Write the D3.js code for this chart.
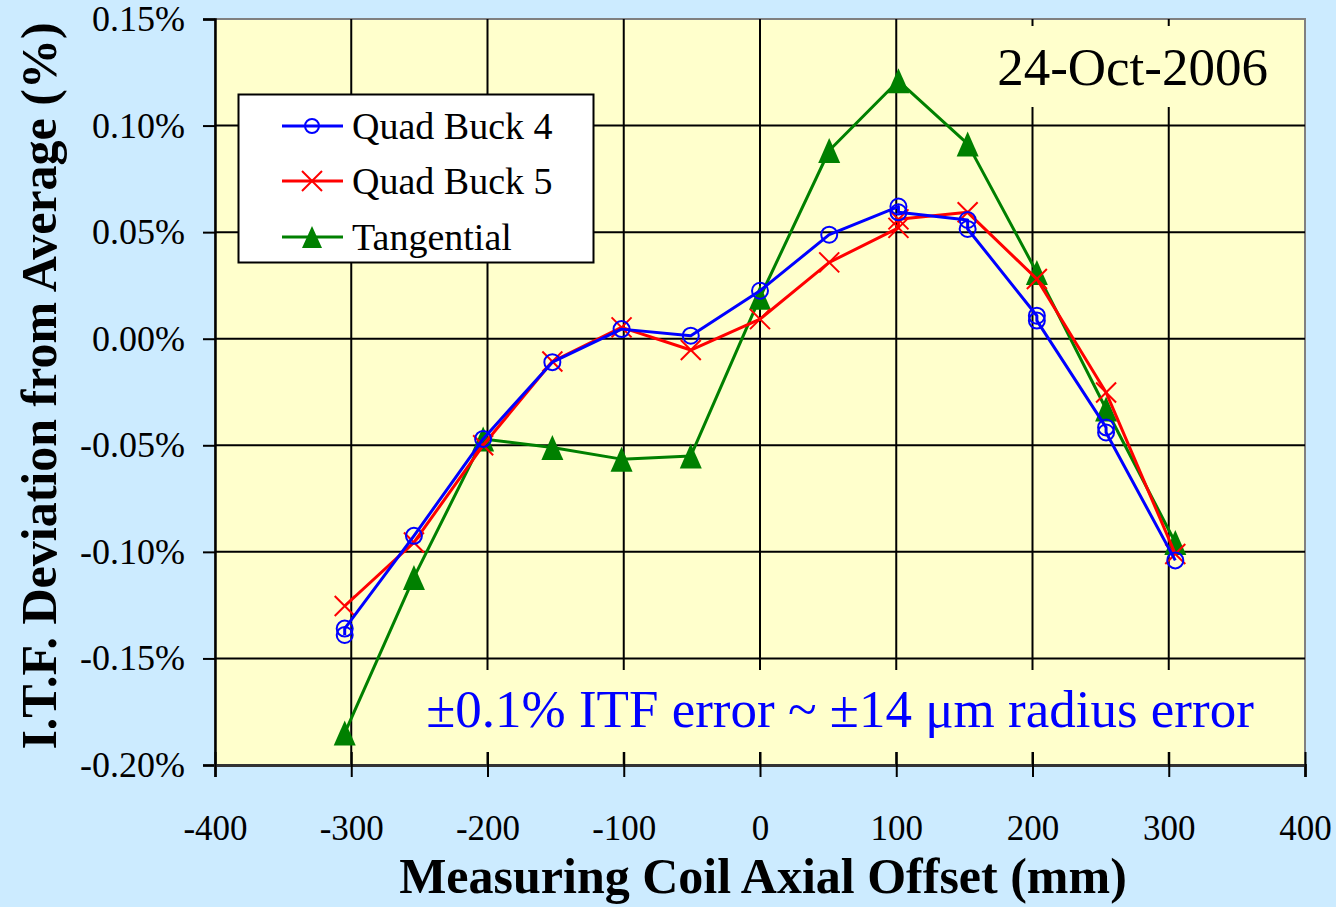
<!DOCTYPE html>
<html>
<head>
<meta charset="utf-8">
<script src="https://cdn.jsdelivr.net/npm/d3@7"></script>
<style>
  html, body { margin: 0; padding: 0; background: #CCEBFF; }
  svg { display: block; }
  text { font-family: "Liberation Serif", "Times New Roman", serif; }
</style>
</head>
<body>
<div id="chart"></div>
<script>
// positions along the coil (mm) and I.T.F. deviation (%)
const qb4X = [-304.8, -304.8, -254, -203.2, -152.4, -101.6, -50.8, 0, 50.8, 101.6, 101.6, 152.4, 152.4, 203.2, 203.2, 254, 254, 304.8];
const qb4Y = [-0.139, -0.136, -0.0925, -0.047, -0.011, 0.0045, 0.0014, 0.0225, 0.0488, 0.062, 0.0593, 0.0557, 0.0515, 0.0108, 0.0085, -0.0416, -0.044, -0.104];

const qb5X = [-304.8, -254, -203.2, -152.4, -101.6, -50.8, 0, 50.8, 101.6, 101.6, 152.4, 203.2, 254, 304.8];
const qb5Y = [-0.1254, -0.0956, -0.050, -0.0107, 0.0053, -0.0053, 0.0092, 0.0358, 0.052, 0.056, 0.0593, 0.028, -0.0252, -0.101];

const tanX = [-304.8, -254, -203.2, -152.4, -101.6, -50.8, 0, 50.8, 101.6, 152.4, 203.2, 254, 304.8];
const tanY = [-0.185, -0.112, -0.047, -0.051, -0.0565, -0.055, 0.0194, 0.0883, 0.121, 0.0914, 0.0311, -0.033, -0.0956];

const xTicks = [-400, -300, -200, -100, 0, 100, 200, 300, 400];
const yTicks = [-0.20, -0.15, -0.10, -0.05, 0.00, 0.05, 0.10, 0.15];

const seriesNames = ["Quad Buck 4", "Quad Buck 5", "Tangential"];
const seriesColors = ["#0000FF", "#FF0000", "#008000"];
const seriesMarks = ["circle", "cross", "triangle"];

const dateLabel = "24-Oct-2006";
const noteLabel = "±0.1% ITF error ~ ±14 μm radius error";
const xTitle = "Measuring Coil Axial Offset (mm)";
const yTitle = "I.T.F. Deviation from Average (%)";

const width = 1336, height = 907;
const plot = { left: 215, right: 1305, top: 19, bottom: 765 };

const svg = d3.select("#chart").append("svg")
    .attr("width", width)
    .attr("height", height);

svg.append("rect").attr("width", width).attr("height", height).attr("fill", "#CCEBFF");

const x = d3.scaleLinear().domain([-400, 400]).range([plot.left, plot.right]);
const y = d3.scaleLinear().domain([-0.2, 0.15]).range([plot.bottom, plot.top]);

// plot area
svg.append("rect")
    .attr("x", plot.left).attr("y", plot.top)
    .attr("width", plot.right - plot.left).attr("height", plot.bottom - plot.top)
    .attr("fill", "#FFFFCC")
    .attr("stroke", "#808080")
    .attr("stroke-width", 2);

// grid
svg.append("g")
    .selectAll("line.vg")
    .data(xTicks.slice(1, -1))
    .enter().append("line")
    .attr("x1", d => x(d)).attr("x2", d => x(d))
    .attr("y1", plot.top).attr("y2", plot.bottom)
    .attr("stroke", "#000").attr("stroke-width", 2);

svg.append("g")
    .selectAll("line.hg")
    .data(yTicks.slice(1, -1))
    .enter().append("line")
    .attr("x1", plot.left).attr("x2", plot.right)
    .attr("y1", d => y(d)).attr("y2", d => y(d))
    .attr("stroke", "#000").attr("stroke-width", 2);

// text boxes cover the grid
svg.append("rect").attr("x", 985).attr("y", 26).attr("width", 300).attr("height", 81).attr("fill", "#FFFFCC");
svg.append("text")
    .attr("x", 1268).attr("y", 85)
    .attr("text-anchor", "end")
    .attr("font-size", 53)
    .attr("fill", "#000")
    .text(dateLabel);

svg.append("rect").attr("x", 408).attr("y", 670).attr("width", 866).attr("height", 82).attr("fill", "#FFFFCC");
svg.append("text")
    .attr("x", 840).attr("y", 727)
    .attr("text-anchor", "middle")
    .attr("font-size", 53)
    .attr("fill", "#0000FF")
    .text(noteLabel);

// axes
const yAxis = d3.axisLeft(y)
    .tickValues(yTicks)
    .tickSize(12)
    .tickPadding(18)
    .tickFormat(d => d.toFixed(2) + "%");

const gy = svg.append("g")
    .attr("transform", `translate(${plot.left},0)`)
    .call(yAxis);
gy.select(".domain").attr("stroke", "#000").attr("stroke-width", 2.5);
gy.selectAll(".tick line").attr("stroke", "#000").attr("stroke-width", 2);
gy.selectAll(".tick text")
    .attr("font-size", 36)
    .attr("fill", "#000");

const xAxis = d3.axisBottom(x)
    .tickValues(xTicks)
    .tickSize(12)
    .tickPadding(38)
    .tickFormat(d => String(d));

const gx = svg.append("g")
    .attr("transform", `translate(0,${plot.bottom})`)
    .call(xAxis);
gx.select(".domain").attr("stroke", "#333").attr("stroke-width", 3);
gx.selectAll(".tick line").attr("stroke", "#000").attr("stroke-width", 2).attr("y1", -13);
gx.selectAll(".tick text")
    .attr("font-size", 35)
    .attr("fill", "#000");

// series
const series = [
    { xs: qb4X, ys: qb4Y },
    { xs: qb5X, ys: qb5Y },
    { xs: tanX, ys: tanY }
].map((s, i) => ({
    name: seriesNames[i],
    color: seriesColors[i],
    mark: seriesMarks[i],
    points: s.xs.map((v, j) => ({ x: v, y: s.ys[j] }))
}));

const line = d3.line().x(d => x(d.x)).y(d => y(d.y));

function drawMarker(g, mark, color, cx, cy, big) {
    if (mark === "circle") {
        g.append("circle")
            .attr("cx", cx).attr("cy", cy).attr("r", big ? 8 : 7)
            .attr("fill", "none").attr("stroke", color).attr("stroke-width", 2);
    } else if (mark === "cross") {
        const h = 10;
        g.append("path")
            .attr("d", `M${cx - h},${cy - h}L${cx + h},${cy + h}M${cx - h},${cy + h}L${cx + h},${cy - h}`)
            .attr("stroke", color).attr("stroke-width", 2).attr("fill", "none");
    } else {
        const w = big ? 11 : 10, hh = big ? 12.5 : 11;
        g.append("path")
            .attr("d", `M${cx},${cy - hh}L${cx + w},${cy + hh}L${cx - w},${cy + hh}Z`)
            .attr("fill", color);
    }
}

// draw in reverse so blue sits on top like the original
series.slice().reverse().forEach(s => {
    const g = svg.append("g");
    g.append("path")
        .datum(s.points)
        .attr("d", line)
        .attr("fill", "none")
        .attr("stroke", s.color)
        .attr("stroke-width", 3)
        .attr("stroke-linejoin", "round");
    s.points.forEach(p => drawMarker(g, s.mark, s.color, x(p.x), y(p.y), true));
});

// legend
const legend = svg.append("g");
legend.append("rect")
    .attr("x", 238.5).attr("y", 94.5).attr("width", 355).attr("height", 168)
    .attr("fill", "#FFFFFF").attr("stroke", "#000").attr("stroke-width", 2);

const rowY = [126, 181, 237];
series.forEach((s, i) => {
    legend.append("line")
        .attr("x1", 282).attr("x2", 343)
        .attr("y1", rowY[i]).attr("y2", rowY[i])
        .attr("stroke", s.color).attr("stroke-width", 3);
    drawMarker(legend, s.mark, s.color, 312, rowY[i], false);
    legend.append("text")
        .attr("x", 352).attr("y", rowY[i] + 13)
        .attr("font-size", 38)
        .attr("fill", "#000")
        .text(s.name);
});

// axis titles
svg.append("text")
    .attr("x", 763).attr("y", 893)
    .attr("text-anchor", "middle")
    .attr("font-size", 50)
    .attr("font-weight", "bold")
    .text(xTitle);

svg.append("text")
    .attr("transform", "translate(56,386) rotate(-90)")
    .attr("text-anchor", "middle")
    .attr("font-size", 50)
    .attr("font-weight", "bold")
    .text(yTitle);
</script>
</body>
</html>
